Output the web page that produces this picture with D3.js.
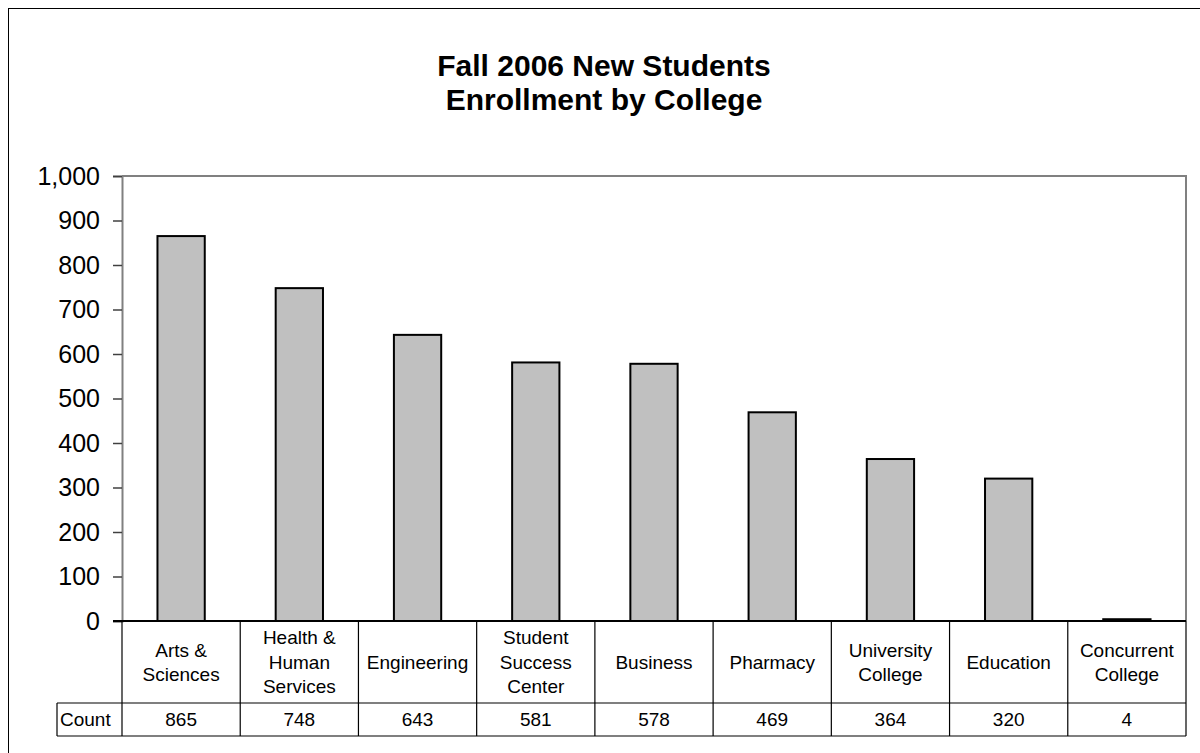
<!DOCTYPE html>
<html>
<head>
<meta charset="utf-8">
<script src="https://cdn.jsdelivr.net/npm/d3@7"></script>
<style>
html,body{margin:0;padding:0;background:#fff;}
svg{display:block;font-family:"Liberation Sans",Arial,sans-serif;}
</style>
</head>
<body>
<svg id="chart" width="1200" height="753"></svg>
<script>
const categories = [
  ["Arts &", "Sciences"],
  ["Health &", "Human", "Services"],
  ["Engineering"],
  ["Student", "Success", "Center"],
  ["Business"],
  ["Pharmacy"],
  ["University", "College"],
  ["Education"],
  ["Concurrent", "College"]
];
const counts = [865, 748, 643, 581, 578, 469, 364, 320, 4];
const yTicks = [0, 100, 200, 300, 400, 500, 600, 700, 800, 900, 1000];
const titleLines = ["Fall 2006 New Students", "Enrollment by College"];
const rowLabel = "Count";

(function () {
const svg = d3.select("#chart");

// outer frame
svg.append("rect").attr("x", 8.5).attr("y", 8.5).attr("width", 1300).attr("height", 900)
  .attr("fill", "#fff").attr("stroke", "#000").attr("stroke-width", 1);

const pLeft = 122, pRight = 1186, pTop = 176, pBottom = 621;
const catRowBottom = 703, countRowBottom = 736, countLeft = 57;

const x = d3.scaleBand().domain(d3.range(categories.length)).range([pLeft, pRight]).paddingInner(0).paddingOuter(0);
const y = d3.scaleLinear().domain([0, 1000]).range([pBottom, pTop]);

// title
svg.append("text").attr("x", 604).attr("text-anchor", "middle")
  .attr("font-weight", "bold").attr("font-size", 30)
  .selectAll("tspan").data(titleLines).join("tspan")
  .attr("x", 604).attr("y", (d, i) => 76 + i * 34).text(d => d);

// plot area border (gray)
svg.append("path")
  .attr("d", `M${pLeft},${pTop}H${pRight}V${pBottom}`)
  .attr("fill", "none").attr("stroke", "#808080").attr("stroke-width", 2);

// bars
const bw = x.bandwidth() * 0.4;
svg.append("g").selectAll("rect").data(counts).join("rect")
  .attr("x", (d, i) => x(i) + (x.bandwidth() - bw) / 2)
  .attr("y", d => y(d))
  .attr("width", bw)
  .attr("height", d => y(0) - y(d))
  .attr("fill", "#C0C0C0").attr("stroke", "#000").attr("stroke-width", 2);

// y axis
const yAxis = svg.append("g").attr("transform", `translate(${pLeft},0)`)
  .call(d3.axisLeft(y).tickValues(yTicks).tickFormat(d3.format(",")).tickSize(9).tickPadding(13));
yAxis.select(".domain").attr("stroke", "#808080").attr("stroke-width", 2);
yAxis.selectAll(".tick line").attr("stroke", "#404040").attr("stroke-width", 1.5);
yAxis.selectAll(".tick text").attr("font-size", 25).attr("fill", "#000")
  .attr("font-family", "'Liberation Sans',Arial,sans-serif");

// data table
const tg = svg.append("g");
const line = (x1, y1, x2, y2, c, w) => tg.append("line").attr("x1", x1).attr("y1", y1).attr("x2", x2).attr("y2", y2)
  .attr("stroke", c).attr("stroke-width", w);
line(pLeft - 9, pBottom, pRight, pBottom, "#000", 2);
line(pLeft, pBottom, pLeft, catRowBottom, "#000", 1.2);
line(pRight, pBottom, pRight, countRowBottom, "#000", 1.2);
line(countLeft, catRowBottom, pRight, catRowBottom, "#000", 1.2);
line(countLeft, countRowBottom, pRight, countRowBottom, "#000", 1.2);
line(countLeft, catRowBottom, countLeft, countRowBottom, "#000", 1.2);
line(pLeft, catRowBottom, pLeft, countRowBottom, "#000", 1.2);
for (let i = 1; i < categories.length; i++) {
  line(x(i), pBottom, x(i), countRowBottom, "#000", 1.2);
}

const fs = 19, lh = 24.5;
const catMid = (pBottom + catRowBottom) / 2;
tg.selectAll("text.cat").data(categories).join("text").attr("class", "cat")
  .attr("text-anchor", "middle").attr("font-size", fs).attr("fill", "#000")
  .each(function(lines, i) {
    const cx = x(i) + x.bandwidth() / 2;
    const y0 = catMid - (lines.length - 1) * lh / 2 + fs * 0.36;
    d3.select(this).selectAll("tspan").data(lines).join("tspan")
      .attr("x", cx).attr("y", (d, j) => y0 + j * lh).text(d => d);
  });

const countMid = (catRowBottom + countRowBottom) / 2 + fs * 0.36;
tg.selectAll("text.cnt").data(counts).join("text").attr("class", "cnt")
  .attr("text-anchor", "middle").attr("font-size", fs).attr("fill", "#000")
  .attr("x", (d, i) => x(i) + x.bandwidth() / 2).attr("y", countMid)
  .text(d => d3.format(",")(d));
tg.append("text").attr("x", countLeft + 3).attr("y", countMid)
  .attr("font-size", fs).attr("fill", "#000").text(rowLabel);
})();
</script>
</body>
</html>
